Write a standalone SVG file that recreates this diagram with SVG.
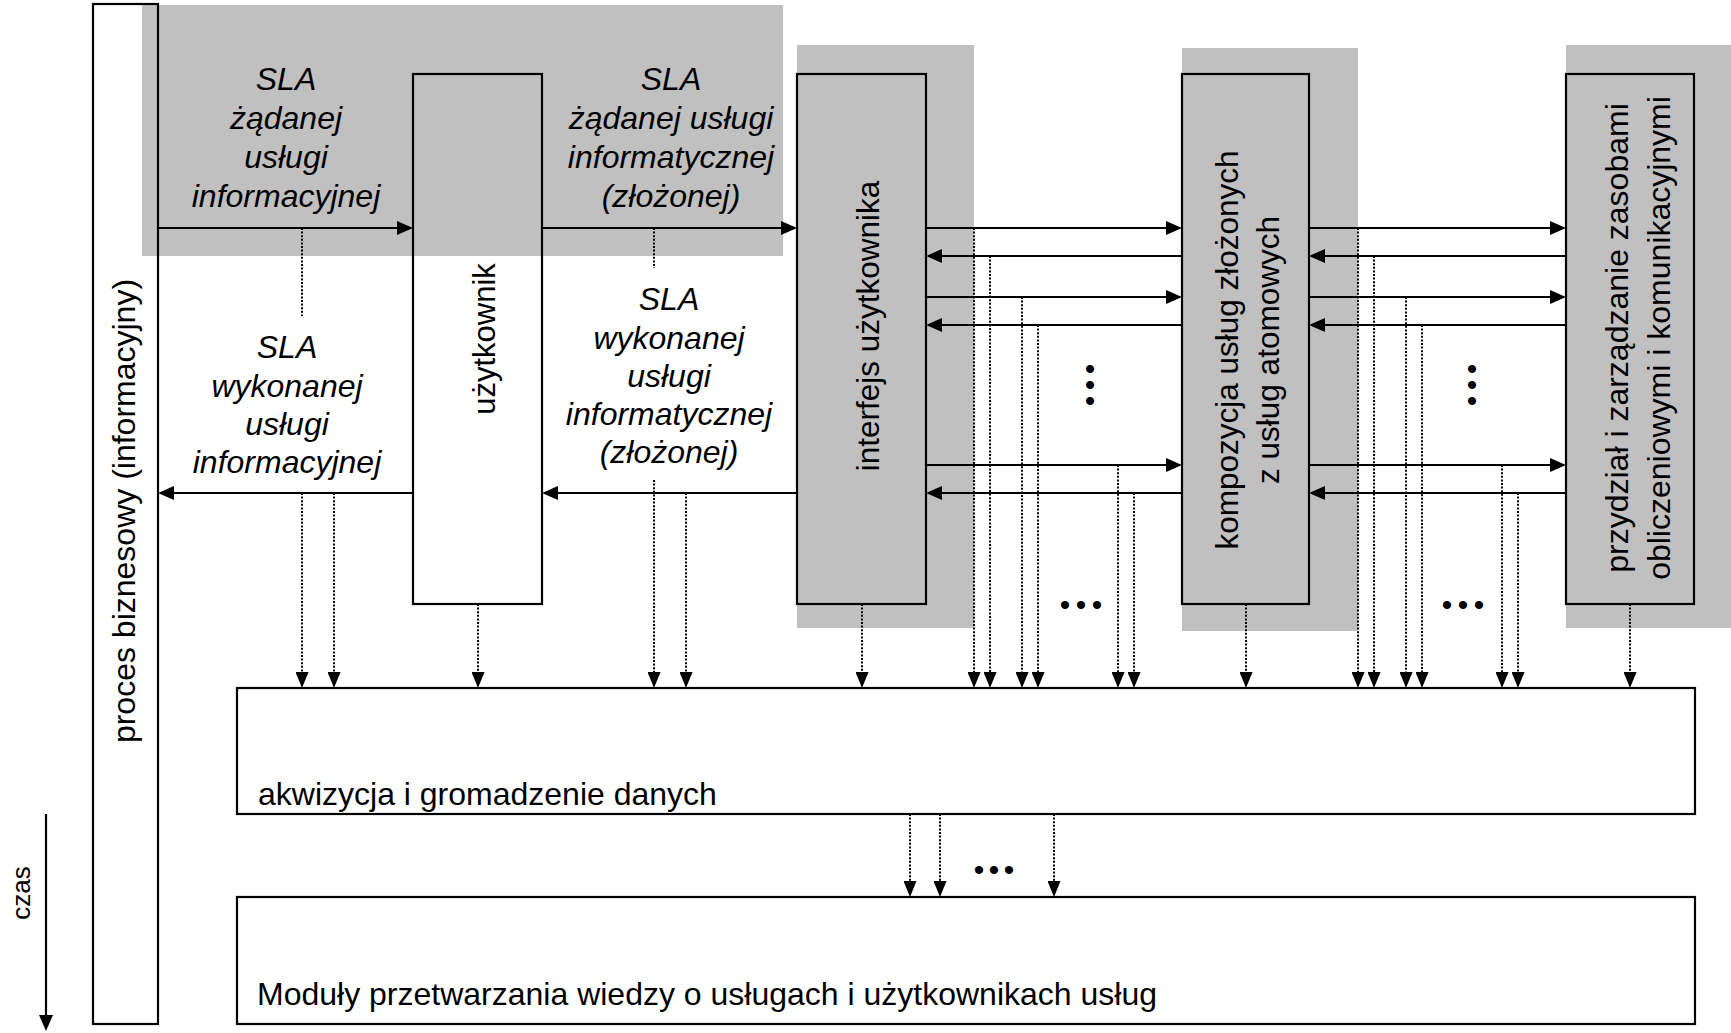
<svg xmlns="http://www.w3.org/2000/svg" width="1731" height="1033" viewBox="0 0 1731 1033">
  <defs>
    <style>
      .box{fill:none;stroke:#000;stroke-width:2.2}
      .gbox{fill:#c0c0c0;stroke:#000;stroke-width:2.2}
      .shade{fill:#c0c0c0}
      .flow{fill:none;stroke:#000;stroke-width:2.2;marker-end:url(#ah)}
      .dot{fill:none;stroke:#000;stroke-width:2;stroke-dasharray:2 1.6}
      .dota{marker-end:url(#dh)}
      text{font-family:"Liberation Sans",Arial,sans-serif;fill:#000}
      .sla{font-size:32px;font-style:italic;text-anchor:middle}
      .lbl{font-size:32px}
      .vlbl{font-size:31px;text-anchor:middle}
      .ell{font-size:30px;letter-spacing:5.5px}
    </style>
    <marker id="ah" markerUnits="userSpaceOnUse" markerWidth="16" markerHeight="14" refX="12" refY="7" orient="auto">
      <path d="M0,0 L16,7 L0,14 z" fill="#000"/>
    </marker>
    <marker id="dh" markerUnits="userSpaceOnUse" markerWidth="16" markerHeight="13" refX="12" refY="6.5" orient="auto">
      <path d="M0,0 L16,6.5 L0,13 z" fill="#000"/>
    </marker>
  </defs>

  <rect width="1731" height="1033" fill="#fff"/>

  <!-- shaded band behind the requested-SLA flow -->
  <rect id="sla-band" class="shade" x="142" y="5" width="641" height="251"/>

  <g id="proces">
    <rect class="box" x="93" y="4" width="65" height="1020"/>
    <text class="vlbl" style="font-size:32px" transform="translate(135,511) rotate(-90)">proces biznesowy (informacyjny)</text>
  </g>

  <g id="uzytkownik">
    <rect class="box" x="413" y="74" width="129" height="530"/>
    <text class="vlbl" transform="translate(495,339) rotate(-90)">użytkownik</text>
  </g>

  <g id="interfejs">
    <rect class="shade" x="797" y="45" width="177" height="583"/>
    <rect class="gbox" x="797" y="74" width="129" height="530"/>
    <text class="vlbl" style="font-size:31.5px" transform="translate(879,326) rotate(-90)">interfejs użytkownika</text>
  </g>

  <g id="kompozycja">
    <rect class="shade" x="1182" y="48" width="176" height="583"/>
    <rect class="gbox" x="1182" y="74" width="127" height="530"/>
    <text class="vlbl" style="font-size:31.5px" transform="translate(1238,350) rotate(-90)">kompozycja usług złożonych</text>
    <text class="vlbl" style="font-size:31.5px" transform="translate(1279,350) rotate(-90)">z usług atomowych</text>
  </g>

  <g id="przydzial">
    <rect class="shade" x="1566" y="45" width="165" height="583"/>
    <rect class="gbox" x="1566" y="74" width="128" height="530"/>
    <text class="vlbl" style="font-size:32px" transform="translate(1628,338) rotate(-90)">przydział i zarządzanie zasobami</text>
    <text class="vlbl" style="font-size:32px" transform="translate(1670,338) rotate(-90)">obliczeniowymi i komunikacyjnymi</text>
  </g>

  <g id="akwizycja">
    <rect class="box" x="237" y="688" width="1458" height="126"/>
    <text class="lbl" x="258" y="805">akwizycja i gromadzenie danych</text>
  </g>

  <g id="moduly">
    <rect class="box" x="237" y="897" width="1458" height="127"/>
    <text class="lbl" x="257" y="1005">Moduły przetwarzania wiedzy o usługach i użytkownikach usług</text>
  </g>

  <g id="czas">
    <path class="flow" d="M46,814 V1027"/>
    <text class="vlbl" style="font-size:26px" transform="translate(30,893) rotate(-90)">czas</text>
  </g>

  <g id="connectors">
    <!-- requests flowing right -->
    <path class="flow" d="M158,228 H409"/>
    <path class="flow" d="M542,228 H793"/>
    <!-- results flowing back left -->
    <path class="flow" d="M413,493 H162"/>
    <path class="flow" d="M797,493 H546"/>

    <!-- interface <-> composition -->
    <path class="flow" d="M926,228 H1178"/>
    <path class="flow" d="M1182,256 H930"/>
    <path class="flow" d="M926,297 H1178"/>
    <path class="flow" d="M1182,325 H930"/>
    <path class="flow" d="M926,465 H1178"/>
    <path class="flow" d="M1182,493 H930"/>

    <!-- composition <-> resource allocation -->
    <path class="flow" d="M1309,228 H1562"/>
    <path class="flow" d="M1566,256 H1313"/>
    <path class="flow" d="M1309,297 H1562"/>
    <path class="flow" d="M1566,325 H1313"/>
    <path class="flow" d="M1309,465 H1562"/>
    <path class="flow" d="M1566,493 H1313"/>

    <!-- dotted taps between the SLA labels -->
    <path class="dot" d="M302,228 V316"/>
    <path class="dot" d="M654,228 V268"/>

    <!-- dotted taps into data acquisition -->
    <path class="dot dota" d="M302,493 V684"/>
    <path class="dot dota" d="M334,493 V684"/>
    <path class="dot dota" d="M478,604 V684"/>
    <path class="dot dota" d="M654,480 V684"/>
    <path class="dot dota" d="M686,493 V684"/>
    <path class="dot dota" d="M862,604 V684"/>
    <path class="dot dota" d="M974,228 V684"/>
    <path class="dot dota" d="M990,256 V684"/>
    <path class="dot dota" d="M1022,297 V684"/>
    <path class="dot dota" d="M1038,325 V684"/>
    <path class="dot dota" d="M1118,465 V684"/>
    <path class="dot dota" d="M1134,493 V684"/>
    <path class="dot dota" d="M1246,604 V684"/>
    <path class="dot dota" d="M1358,228 V684"/>
    <path class="dot dota" d="M1374,256 V684"/>
    <path class="dot dota" d="M1406,297 V684"/>
    <path class="dot dota" d="M1422,325 V684"/>
    <path class="dot dota" d="M1502,465 V684"/>
    <path class="dot dota" d="M1518,493 V684"/>
    <path class="dot dota" d="M1630,604 V684"/>

    <!-- acquisition -> knowledge processing modules -->
    <path class="dot dota" d="M910,814 V893"/>
    <path class="dot dota" d="M940,814 V893"/>
    <path class="dot dota" d="M1054,814 V893"/>
  </g>

  <g id="labels">
    <text class="sla" x="286" y="90">SLA</text>
    <text class="sla" x="286" y="129">żądanej</text>
    <text class="sla" x="286" y="168">usługi</text>
    <text class="sla" x="286" y="207">informacyjnej</text>

    <text class="sla" x="671" y="90">SLA</text>
    <text class="sla" x="671" y="129">żądanej usługi</text>
    <text class="sla" x="671" y="168">informatycznej</text>
    <text class="sla" x="671" y="207">(złożonej)</text>

    <text class="sla" x="287" y="358">SLA</text>
    <text class="sla" x="287" y="397">wykonanej</text>
    <text class="sla" x="287" y="435">usługi</text>
    <text class="sla" x="287" y="473">informacyjnej</text>

    <text class="sla" x="669" y="310">SLA</text>
    <text class="sla" x="669" y="349">wykonanej</text>
    <text class="sla" x="669" y="387">usługi</text>
    <text class="sla" x="669" y="425">informatycznej</text>
    <text class="sla" x="669" y="463">(złożonej)</text>

    <!-- ellipses marking repeated flows -->
    <text class="ell" transform="translate(1079.5,363.75) rotate(90)">•••</text>
    <text class="ell" transform="translate(1462,363.75) rotate(90)">•••</text>
    <text class="ell" x="1059.75" y="615">•••</text>
    <text class="ell" x="1441.75" y="615">•••</text>
    <text class="ell" style="letter-spacing:4.5px" x="973.75" y="880">•••</text>
  </g>
</svg>
